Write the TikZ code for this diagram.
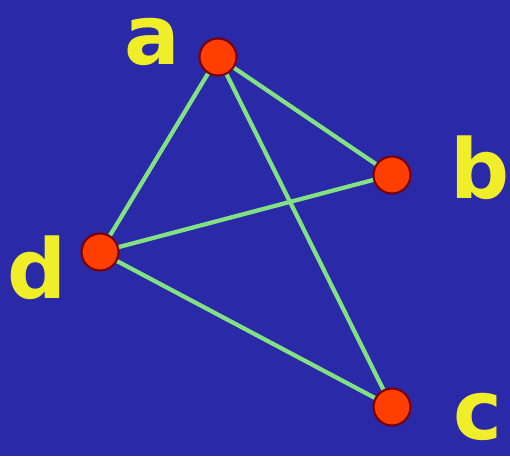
\documentclass[tikz,border=0pt]{standalone}
\usepackage{fontspec}
\setsansfont{DejaVu Sans}
\usetikzlibrary{positioning}
\definecolor{fondo}{RGB}{42,42,168}
\definecolor{vertice}{RGB}{255,62,0}
\definecolor{borde}{RGB}{120,0,10}
\definecolor{arista}{RGB}{130,225,130}
\definecolor{etiqueta}{RGB}{240,238,40}

\begin{document}
\begin{tikzpicture}[
    x=0.02cm, y=-0.02cm,
    vert/.style={
        circle,
        draw=borde,
        line width=1.2pt,
        fill=vertice,
        inner sep=0pt,
        minimum size=0.74cm
    },
    lbl/.style={
        text=etiqueta,
        font=\sffamily\bfseries\fontsize{47}{47}\selectfont,
        inner sep=0pt
    },
    edge/.style={arista, line width=2.4pt}
]

% ---------------- Fondo ----------------
\fill[fondo] (0,0) rectangle (510,456);
\useasboundingbox (0,0) rectangle (510,456);

% ---------------- Aristas ----------------
\coordinate (pa) at (218,57);
\coordinate (pb) at (392,175);
\coordinate (pd) at (100,252);
\coordinate (pc) at (392,407);

\draw[edge] (pa) -- (pb);
\draw[edge] (pa) -- (pd);
\draw[edge] (pa) -- (pc);
\draw[edge] (pd) -- (pb);
\draw[edge] (pd) -- (pc);

% ---------------- Vertices ----------------
\node[vert] (a) at (pa) {};
\node[vert] (b) at (pb) {};
\node[vert] (d) at (pd) {};
\node[vert] (c) at (pc) {};

% ---------------- Etiquetas ----------------
\node[lbl] (la) at (152,42) {a};
\node[lbl] (lb) at (480,168) {b};
\node[lbl] (ld) at (37,268) {d};
\node[lbl] (lc) at (478,417) {c};

\end{tikzpicture}
\end{document}
